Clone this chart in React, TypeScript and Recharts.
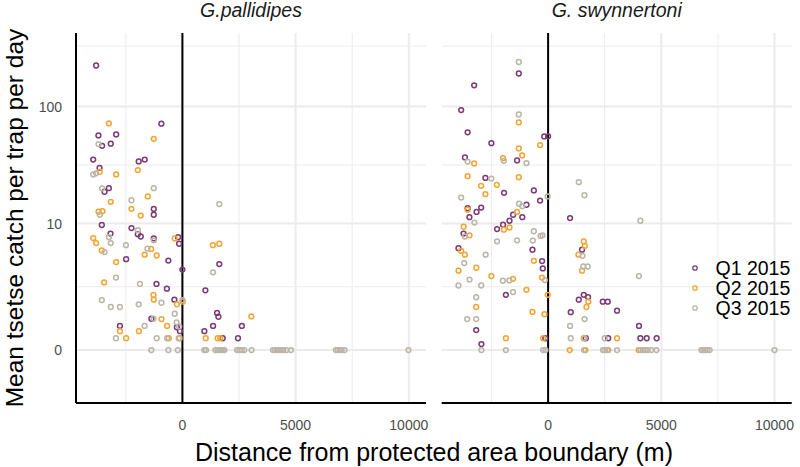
import React from 'react';
import { ScatterChart, Scatter, XAxis, YAxis, CartesianGrid, ReferenceLine } from 'recharts';

type Pt = [number, number]; // [distance from boundary (m), mean catch per trap per day]

const quarters = ['Q1 2015', 'Q2 2015', 'Q3 2015'];
const colours = ['#7a3b76', '#f2a533', '#bcb5a7'];
const species = ['G.pallidipes', 'G. swynnertoni'];

const yBreaks = [0, 10, 100];
const xBreaks = [0, 5000, 10000];
const xMinorBreaks = [-2500, 2500, 7500];

const pallQ1: Pt[] = [
  [-3810, 219], [-930, 72], [-3710, 57.5], [-2925, 58.6], [-3545, 47], [-3165, 49], [-3940, 36],
  [-1930, 34.7], [-1665, 36], [-3660, 30.6], [-3440, 19.1], [-3250, 20.5], [-1265, 13.5], [-1265, 12],
  [-3560, 9.7], [-3175, 8.1], [-2250, 9.1], [-1970, 8], [-1840, 7.6], [-1265, 7.3], [-190, 7.5],
  [-145, 6.5], [-2485, 4.6], [-620, 4.45], [0, 3.6], [1630, 4.1], [-1145, 2.5], [-685, 2.2], [1015, 2.1],
  [-355, 1.6], [-1370, 0.81], [-2760, 0.58], [-245, 0.54], [-110, 0.43], [970, 0.43], [1355, 0.58],
  [1530, 1.02], [1590, 0.88], [2625, 0.58], [1780, 0.25], [2455, 0.25],
];

const pallQ2: Pt[] = [
  [-3250, 72.4], [-1265, 53.8], [-3650, 28.3], [-2925, 26.9], [-1970, 29.3], [-3165, 15.6], [-1530, 17.4],
  [-3705, 12.75], [-3530, 12.9], [-2250, 13.55], [-1840, 11.8], [-3940, 7.35], [-3810, 6.6], [-3560, 5.6],
  [-340, 7.3], [-1380, 5.8], [-1665, 5.1], [-1135, 5], [-2925, 4.3], [1345, 6.3], [1630, 6.5], [-3455, 2.6],
  [-1280, 1.84], [-1265, 1.6], [-925, 0.8], [-245, 1.38], [15, 1.5], [-2760, 0.43], [-1920, 0.43],
  [-675, 0.58], [3045, 0.89], [-2485, 0.25], [-605, 0.25], [-120, 0.25], [1030, 0.25], [1555, 0.25],
  [1675, 0.25],
];

const pallQ3: Pt[] = [
  [-3705, 48.6], [-3940, 26.9], [-3810, 27.5], [-3545, 20.4], [-1265, 20.5], [-2250, 16.1], [1630, 14.9],
  [-3650, 12], [-1965, 8.7], [-3245, 7.5], [-3165, 6.6], [-3440, 5.4], [-2495, 6.3], [-1545, 5.85],
  [-1265, 7], [1355, 3.36], [-2935, 2.95], [-1875, 2.5], [-3560, 1.58], [-3165, 1.26], [-2760, 1.26],
  [-1930, 1.38], [-925, 1.45], [0, 1.58], [-340, 0.99], [-255, 0.69], [-1280, 0.81], [-1670, 0.58],
  [-140, 0.56], [-2935, 0.25], [-1135, 0.25], [-675, 0.25], [-165, 0.25],
  [-1370, 0], [-620, 0], [-205, 0], [970, 0], [1045, 0], [1455, 0], [1545, 0], [1630, 0], [1720, 0],
  [1785, 0], [1855, 0], [2415, 0], [2515, 0], [2625, 0], [2735, 0], [3055, 0], [4000, 0], [4080, 0],
  [4170, 0], [4260, 0], [4345, 0], [4455, 0], [4590, 0], [4795, 0], [6780, 0], [6860, 0], [6950, 0],
  [7035, 0], [7160, 0], [9985, 0],
];

const swynQ1: Pt[] = [
  [-1295, 188], [-3265, 150], [-3840, 93.5], [-3555, 61], [-170, 56.4], [0, 56.5], [-2505, 49.5],
  [-3675, 37.5], [-1370, 35.4], [-2770, 25.1], [-1945, 18.7], [-630, 19.6], [-355, 16], [-3555, 13.7],
  [-3160, 12.7], [-2955, 13.9], [-3475, 11.4], [-955, 14.7], [-1545, 12], [-1140, 11.4], [-1705, 10.6],
  [-1990, 9.75], [-2255, 8.9], [970, 11.2], [-3735, 8.1], [-3960, 5.9], [-690, 5.7], [-265, 4.4],
  [-235, 3.7], [1500, 5.7], [-1865, 1.85], [-3175, 0.46], [-2945, 0.12], [-125, 0.25], [1000, 1.05],
  [1575, 1.85], [1765, 1.73], [1355, 1.6], [2415, 1.5], [2635, 1.5], [3045, 1.11], [4015, 0.58],
  [1665, 0.25], [2655, 0.25], [4075, 0.25], [4355, 0.25], [4795, 0.25],
];

const swynQ2: Pt[] = [
  [-1295, 73.8], [-355, 47.7], [-1295, 44.7], [-1145, 39], [-3265, 33.4], [-1990, 37], [-3555, 26],
  [-1295, 25.5], [-2960, 21.5], [-2265, 21.9], [-2770, 18.2], [-3555, 13.3], [-1370, 12.7], [-3730, 9.35],
  [-1955, 8.8], [-1705, 9.2], [-3470, 7.8], [-3840, 5.55], [-3675, 5.1], [-3955, 3.5], [-3170, 3.76],
  [-2505, 3.06], [-1550, 2.86], [-955, 2.13], [-630, 4.43], [-270, 2.95], [-15, 1.85], [-3175, 1.26],
  [-690, 1.06], [-160, 0.97], [-1865, 0.25], [-220, 0.25], [1575, 6.85], [1620, 6.2], [1340, 5.1],
  [1500, 3.5], [1775, 1.5], [1695, 1.26], [1575, 0.25], [3045, 0.25],
  [955, 0], [1650, 0], [2620, 0], [4000, 0],
];

const swynQ3: Pt[] = [
  [-1295, 234], [-1295, 86], [-3555, 34.6], [-1955, 35.1], [-955, 33.6], [-2505, 24.8], [-20, 17.4],
  [-3840, 17], [1355, 23.1], [1605, 17.8], [-1285, 15], [-1140, 14.3], [-3255, 10.2], [4075, 10.6],
  [-630, 8.5], [-335, 7.7], [-245, 7.8], [-3675, 7.6], [-2255, 6.85], [-1370, 7], [-675, 6.96],
  [-2760, 5.1], [-3705, 4.2], [-145, 2.77], [-3470, 2.8], [-3960, 2.4], [-2955, 2.4], [-2000, 2.72],
  [-1710, 2.74], [-1550, 2], [-3175, 1.72], [1555, 3.87], [1750, 3.87], [1520, 4.96], [4010, 3.06],
  [-3575, 0.8], [-3175, 0.8], [1610, 0.8], [970, 0.58], [1000, 0.25], [1605, 0.25], [2500, 0.25],
  [-2945, 0], [-1865, 0], [-220, 0], [-115, 0], [1590, 0], [2425, 0], [2515, 0], [2665, 0], [3045, 0],
  [4075, 0], [4180, 0], [4290, 0], [4400, 0], [4555, 0], [4785, 0], [6770, 0], [6855, 0], [6945, 0],
  [7035, 0], [7135, 0], [10000, 0],
];

const panels: Pt[][][] = [
  [pallQ1, pallQ2, pallQ3],
  [swynQ1, swynQ2, swynQ3],
];

// y axis uses a log10(y + 1) transform
const tr = (v: number) => Math.log10(v + 1);
const yMajor = yBreaks.map(tr);
const yExt = [...yBreaks, 1000].map(tr);
const yMinor = yExt.slice(1).map((v, i) => (v + yExt[i]) / 2);

const X_DOMAIN = [-4700, 10760];
const Y_DOMAIN = [-0.436, 2.61];

const font = '"Liberation Sans", Arial, sans-serif';
const tickStyle = { fill: '#4d4d4d', fontSize: 14, fontFamily: font };

const yLabel = (v: number) => {
  let best = 0;
  yMajor.forEach((m, i) => {
    if (Math.abs(m - v) < Math.abs(yMajor[best] - v)) best = i;
  });
  return String(yBreaks[best]);
};

const ring = (colour: string) => (p: any) => (
  <circle cx={p.cx} cy={p.cy} r={2.4} fill="none" stroke={colour} strokeWidth={1.5} />
);

function Panel({ data, first }: { data: Pt[][]; first: boolean }) {
  const width = first ? 440 : 370;
  const margin = first
    ? { top: 33, right: 14, bottom: 0, left: 0 }
    : { top: 33, right: 8.3, bottom: 0, left: 11.7 };
  return (
    <ScatterChart width={width} height={467} margin={margin}>
      <CartesianGrid horizontalValues={yMinor} verticalValues={xMinorBreaks} stroke="#ebebeb" strokeWidth={1} />
      <CartesianGrid horizontalValues={yMajor} verticalValues={xBreaks} stroke="#ebebeb" strokeWidth={2} />
      <XAxis
        type="number"
        dataKey="x"
        domain={X_DOMAIN}
        ticks={xBreaks}
        interval={0}
        allowDataOverflow
        tick={tickStyle}
        tickLine={false}
        tickSize={0}
        tickMargin={17}
        axisLine={{ stroke: '#000', strokeWidth: 2 }}
        height={64}
      />
      <YAxis
        type="number"
        dataKey="y"
        domain={Y_DOMAIN}
        ticks={yMajor}
        interval={0}
        allowDataOverflow
        tickFormatter={yLabel}
        tick={tickStyle}
        tickLine={false}
        tickSize={0}
        tickMargin={14}
        axisLine={{ stroke: '#000', strokeWidth: 2 }}
        width={76}
        hide={!first}
      />
      <ReferenceLine x={0} stroke="#000" strokeWidth={2} />
      {data.map((pts, i) => (
        <Scatter
          key={quarters[i]}
          name={quarters[i]}
          data={pts.map(([d, c]) => ({ x: d, y: tr(c) }))}
          shape={ring(colours[i])}
          isAnimationActive={false}
        />
      ))}
    </ScatterChart>
  );
}

export default function App() {
  return (
    <div style={{ position: 'absolute', left: 0, top: 0, width: 800, height: 467, background: '#fff', fontFamily: font, overflow: 'hidden' }}>
      <div style={{ position: 'absolute', left: 0, top: 0 }}>
        <Panel data={panels[0]} first />
      </div>
      <div style={{ position: 'absolute', left: 430, top: 0 }}>
        <Panel data={panels[1]} first={false} />
      </div>
      <svg width={800} height={467} style={{ position: 'absolute', left: 0, top: 0, pointerEvents: 'none' }}>
        <text x={251} y={17} textAnchor="middle" fontSize={19.5} fontStyle="italic" fill="#1a1a1a" fontFamily={font}>
          {species[0]}
        </text>
        <text x={616.7} y={17} textAnchor="middle" fontSize={19.5} fontStyle="italic" fill="#1a1a1a" fontFamily={font}>
          {species[1]}
        </text>
        <text x={434} y={460.5} textAnchor="middle" fontSize={25} fill="#000" fontFamily={font}>
          Distance from protected area boundary (m)
        </text>
        <text transform="translate(23,218) rotate(-90)" textAnchor="middle" fontSize={24.5} fill="#000" fontFamily={font}>
          Mean tsetse catch per trap per day
        </text>
        {quarters.map((q, i) => (
          <g key={q}>
            <circle cx={695} cy={268 + i * 20} r={2.2} fill="none" stroke={colours[i]} strokeWidth={1.3} />
            <text x={715.5} y={275 + i * 20} fontSize={19.5} fill="#000" fontFamily={font}>
              {q}
            </text>
          </g>
        ))}
      </svg>
    </div>
  );
}
